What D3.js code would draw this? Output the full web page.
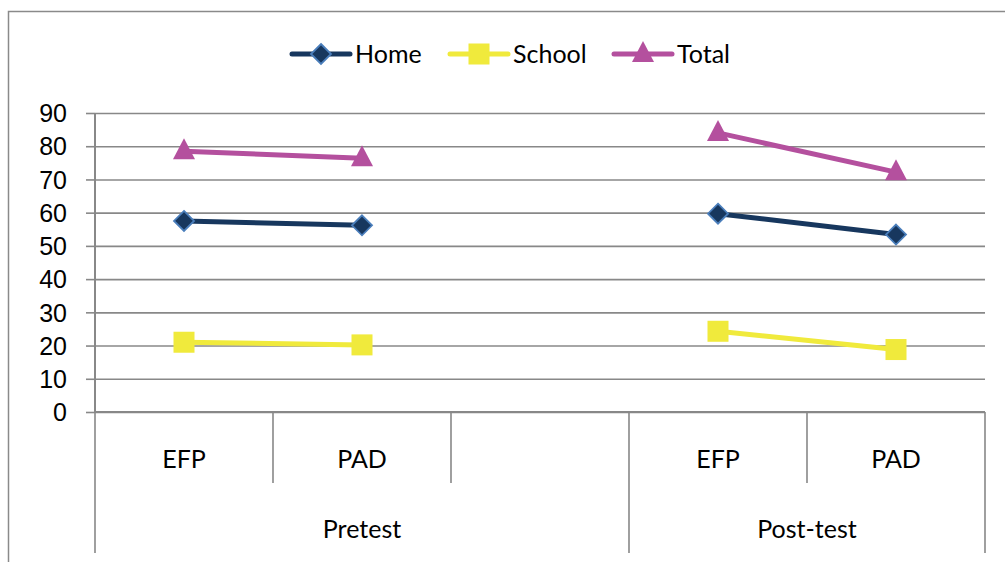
<!DOCTYPE html>
<html>
<head>
<meta charset="utf-8">
<script src="https://cdn.jsdelivr.net/npm/d3@7"></script>
<style>
  html, body { margin: 0; padding: 0; background: #fff; }
  svg { display: block; font-family: Lato, "Open Sans", sans-serif; }
</style>
</head>
<body>
<svg id="chart" width="1005" height="562"></svg>
<script>
// Category slots along the x axis (the third Pretest slot is empty)
const slotLabels = ["EFP", "PAD", "", "EFP", "PAD"];
const groupLabels = ["Pretest", "Pretest", "Pretest", "Post-test", "Post-test"];
const yTicks = [0, 10, 20, 30, 40, 50, 60, 70, 80, 90];

// Series values per slot
const homeValues = [57.5, 56.2, null, 59.7, 53.4];
const schoolValues = [21.0, 20.2, null, 24.3, 18.8];
const totalValues = [78.5, 76.4, null, 84.0, 72.2];

const seriesNames = ["Home", "School", "Total"];

const series = [
  { name: seriesNames[0], values: homeValues, color: "#17375E", marker: "diamond" },
  { name: seriesNames[1], values: schoolValues, color: "#F0EA3C", marker: "square" },
  { name: seriesNames[2], values: totalValues, color: "#B4509E", marker: "triangle" }
];

const svg = d3.select("#chart");
const gridColor = "#888888";
const fontSize = 25;

// Outer chart frame
svg.append("rect")
  .attr("x", 8.5).attr("y", 11.5)
  .attr("width", 1010).attr("height", 560)
  .attr("fill", "none").attr("stroke", "#8a8a8a").attr("stroke-width", 1.5);

const plot = { left: 95, right: 985, top: 113, bottom: 412 };

const keys = slotLabels.map((d, i) => i);
const x = d3.scaleBand().domain(keys).range([plot.left, plot.right]).padding(0);
const y = d3.scaleLinear().domain([0, 90]).range([plot.bottom, plot.top]);

// Horizontal gridlines with short ticks to the left of the axis
const yAxis = d3.axisLeft(y)
  .tickValues(yTicks)
  .tickSize(-(plot.right - plot.left))
  .tickSizeOuter(0)
  .tickPadding(0)
  .tickFormat("");
const gy = svg.append("g").attr("transform", `translate(${plot.left},0)`).call(yAxis);
gy.select(".domain").remove();
gy.selectAll(".tick line").attr("stroke", gridColor).attr("stroke-width", 1.6);
gy.selectAll(".tick").append("line")
  .attr("x1", -9).attr("x2", 0)
  .attr("stroke", gridColor).attr("stroke-width", 1.6);
gy.selectAll(".tick").append("text")
  .attr("x", -28).attr("dy", "0.35em")
  .attr("text-anchor", "end")
  .attr("fill", "#000")
  .style("font-size", fontSize + "px")
  .text(d => d);

// Vertical axis line
svg.append("line")
  .attr("x1", plot.left).attr("x2", plot.left)
  .attr("y1", y(90)).attr("y2", y(0))
  .attr("stroke", gridColor).attr("stroke-width", 2);

// Bottom axis line
svg.append("line")
  .attr("x1", plot.left).attr("x2", plot.right)
  .attr("y1", y(0)).attr("y2", y(0))
  .attr("stroke", gridColor).attr("stroke-width", 2);

// Category dividers: inner level between slots, outer level between groups
const innerBottom = 483, outerBottom = 553;
const boundaries = d3.range(keys.length + 1).map(i => i < keys.length ? x(i) : x(keys.length - 1) + x.bandwidth());
boundaries.forEach((bx, i) => {
  const isGroupEdge = i === 0 || i === keys.length || groupLabels[i] !== groupLabels[i - 1];
  svg.append("line")
    .attr("x1", bx).attr("x2", bx)
    .attr("y1", y(0)).attr("y2", isGroupEdge ? outerBottom : innerBottom)
    .attr("stroke", gridColor).attr("stroke-width", 1.6);
});

// Slot labels
svg.append("g").selectAll("text").data(keys).join("text")
  .attr("x", d => x(d) + x.bandwidth() / 2)
  .attr("y", 459).attr("dy", "0.35em")
  .attr("text-anchor", "middle")
  .style("font-size", fontSize + "px")
  .text(d => slotLabels[d]);

// Group labels centred over their spans
const groupSpans = [];
groupLabels.forEach((g, i) => {
  const last = groupSpans[groupSpans.length - 1];
  if (last && last.name === g) last.end = i;
  else groupSpans.push({ name: g, start: i, end: i });
});
svg.append("g").selectAll("text").data(groupSpans).join("text")
  .attr("x", d => (x(d.start) + x(d.end) + x.bandwidth()) / 2)
  .attr("y", 529).attr("dy", "0.35em")
  .attr("text-anchor", "middle")
  .style("font-size", fontSize + "px")
  .text(d => d.name);

// Marker drawing
function drawMarker(g, type, cx, cy, color) {
  if (type === "diamond") {
    g.append("path")
      .attr("d", `M${cx},${cy - 10}L${cx + 10},${cy}L${cx},${cy + 10}L${cx - 10},${cy}Z`)
      .attr("fill", "#17375E").attr("stroke", "#4A7EBB").attr("stroke-width", 1.8);
  } else if (type === "square") {
    g.append("rect")
      .attr("x", cx - 10.5).attr("y", cy - 10.5)
      .attr("width", 21).attr("height", 21)
      .attr("fill", color);
  } else {
    g.append("path")
      .attr("d", `M${cx},${cy - 13}L${cx + 11},${cy + 8}L${cx - 11},${cy + 8}Z`)
      .attr("fill", color);
  }
}

const line = d3.line()
  .defined(d => d.v !== null)
  .x(d => x(d.i) + x.bandwidth() / 2)
  .y(d => y(d.v));

series.forEach(s => {
  const pts = s.values.map((v, i) => ({ i, v }));
  const g = svg.append("g");
  g.append("path")
    .datum(pts)
    .attr("d", line)
    .attr("fill", "none")
    .attr("stroke", s.color)
    .attr("stroke-width", 5)
    .attr("stroke-linecap", "round");
  pts.filter(p => p.v !== null).forEach(p => {
    drawMarker(g, s.marker, x(p.i) + x.bandwidth() / 2, y(p.v), s.color);
  });
});

// Legend
const legendItems = [
  { s: series[0], x0: 292 },
  { s: series[1], x0: 450 },
  { s: series[2], x0: 614 }
];
const ly = 54;
legendItems.forEach(it => {
  const g = svg.append("g");
  g.append("line")
    .attr("x1", it.x0).attr("x2", it.x0 + 58)
    .attr("y1", ly).attr("y2", ly)
    .attr("stroke", it.s.color).attr("stroke-width", 5)
    .attr("stroke-linecap", "round");
  drawMarker(g, it.s.marker, it.x0 + 29, ly, it.s.color);
  g.append("text")
    .attr("x", it.x0 + 63).attr("y", ly).attr("dy", "0.35em")
    .style("font-size", fontSize + "px")
    .text(it.s.name);
});
</script>
</body>
</html>
